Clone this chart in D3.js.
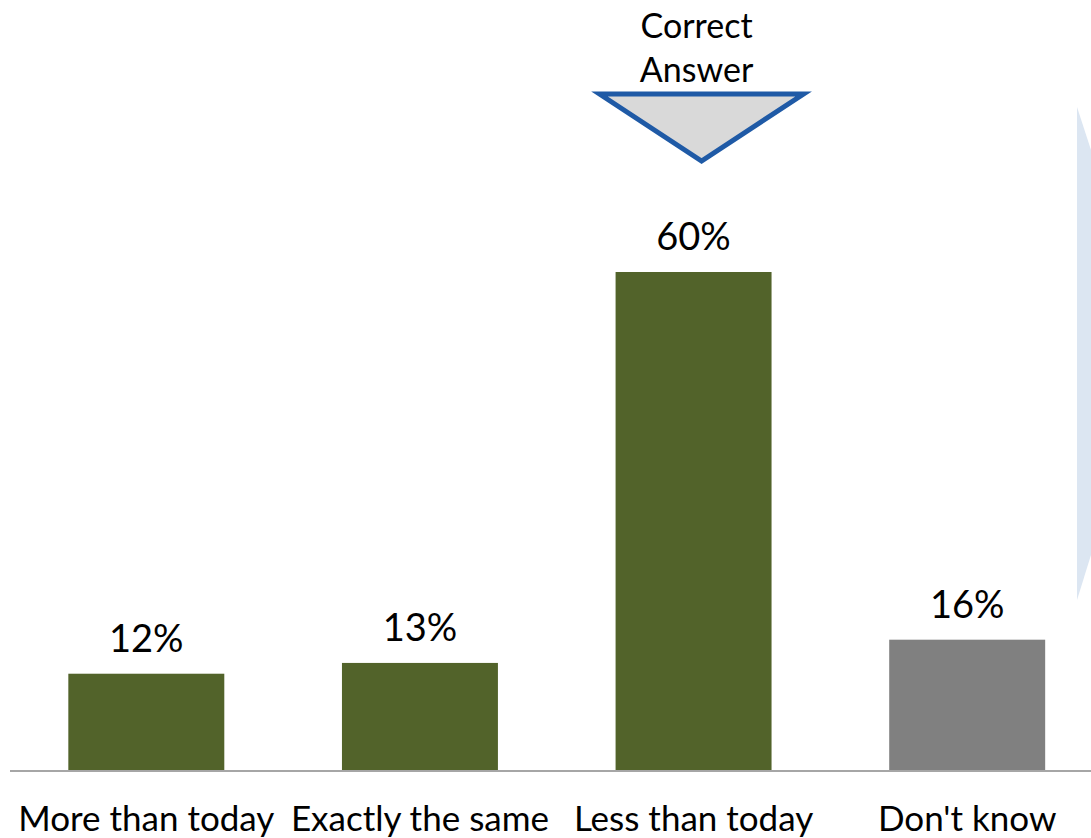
<!DOCTYPE html>
<html>
<head>
<meta charset="utf-8">
<script src="https://cdn.jsdelivr.net/npm/d3@7"></script>
<style>
  body { margin: 0; background: #fff; }
  svg { display: block; }
</style>
</head>
<body>
<svg id="chart" width="1091" height="838"></svg>
<script>
// survey answers
const categories = ['More than today', 'Exactly the same', 'Less than today', "Don't know"]
const values = [11.6, 12.9, 60, 15.7]
const barColors = ['#52632a', '#52632a', '#52632a', '#808080']
const correctIndex = 2

const width = 1091, height = 838
const base = 770

const svg = d3.select('#chart')
const font = 'Lato, Calibri, sans-serif'

const x = d3.scaleBand()
  .domain(categories)
  .range([9.5, 1104])
  .paddingInner(0.43)
  .paddingOuter(0.215)

const y = d3.scaleLinear()
  .domain([0, 60])
  .range([base, 272])

// light blue shape cut off at right edge
svg.append('path')
  .attr('d', 'M1077,107 L1091,150 L1091,555 L1077,600 Z')
  .attr('fill', '#dce6f2')

svg.selectAll('rect.bar')
  .data(values)
  .enter()
  .append('rect')
  .attr('class', 'bar')
  .attr('x', (d, i) => x(categories[i]))
  .attr('y', d => y(d))
  .attr('width', x.bandwidth())
  .attr('height', d => base - y(d))
  .attr('fill', (d, i) => barColors[i])

svg.selectAll('text.val')
  .data(values)
  .enter()
  .append('text')
  .attr('class', 'val')
  .attr('x', (d, i) => x(categories[i]) + x.bandwidth() / 2)
  .attr('y', d => y(d) - 22)
  .attr('text-anchor', 'middle')
  .style('font', '38px ' + font)
  .attr('fill', '#000')
  .text(d => Math.round(d) + '%')

// axis line
svg.append('line')
  .attr('x1', 10).attr('x2', width)
  .attr('y1', base + 1).attr('y2', base + 1)
  .attr('stroke', '#a6a6a6')
  .attr('stroke-width', 2)

svg.selectAll('text.cat')
  .data(categories)
  .enter()
  .append('text')
  .attr('class', 'cat')
  .attr('x', d => x(d) + x.bandwidth() / 2)
  .attr('y', 831)
  .attr('text-anchor', 'middle')
  .style('font', '35px ' + font)
  .attr('fill', '#000')
  .text(d => d)

// correct answer marker
const cx = x(categories[correctIndex]) + x.bandwidth() / 2 + 8
svg.append('path')
  .attr('d', `M${cx - 102},94 L${cx + 102},94 L${cx},161 Z`)
  .attr('fill', '#d9d9d9')
  .attr('stroke', '#1f5aa6')
  .attr('stroke-width', 5)
  .attr('stroke-linejoin', 'miter')

svg.append('text')
  .attr('x', cx - 5).attr('y', 38)
  .attr('text-anchor', 'middle')
  .style('font', '34px ' + font)
  .text('Correct')
svg.append('text')
  .attr('x', cx - 5).attr('y', 82)
  .attr('text-anchor', 'middle')
  .style('font', '34px ' + font)
  .text('Answer')
</script>
</body>
</html>
